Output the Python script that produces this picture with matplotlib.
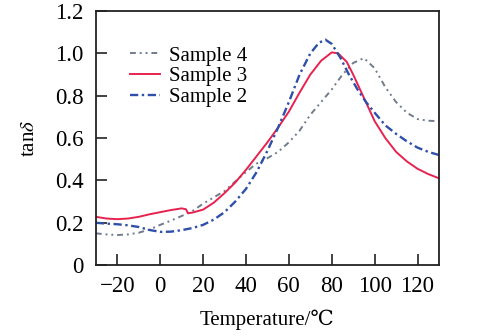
import matplotlib
matplotlib.use("Agg")
import matplotlib.pyplot as plt
from matplotlib.ticker import FuncFormatter

plt.rcParams['font.family'] = ['Liberation Serif', 'DejaVu Serif']
plt.rcParams['mathtext.fontset'] = 'stix'

# tan(delta) vs temperature curves
x_s4 = [-30, -25, -20, -15, -10, -5, 0, 5, 10, 15, 20, 25, 30, 35, 40, 45, 50, 55,
        60, 65, 70, 75, 80, 85, 90, 95, 100, 105, 110, 115, 120, 125, 130]
y_s4 = [0.15, 0.145, 0.142, 0.145, 0.153, 0.168, 0.19, 0.21, 0.232, 0.255, 0.29, 0.32,
        0.35, 0.395, 0.44, 0.48, 0.505, 0.535, 0.58, 0.635, 0.71, 0.77, 0.83, 0.9,
        0.955, 0.978, 0.93, 0.84, 0.77, 0.72, 0.69, 0.682, 0.68]

x_s3 = [-30, -25, -20, -15, -10, -5, 0, 5, 10, 12, 13, 15, 20, 25, 30, 35, 40, 45, 50,
        55, 60, 65, 70, 75, 80, 83, 87, 90, 95, 100, 105, 110, 115, 120, 125, 130]
y_s3 = [0.228, 0.22, 0.217, 0.22, 0.228, 0.24, 0.25, 0.26, 0.268, 0.264, 0.245, 0.248,
        0.262, 0.295, 0.34, 0.39, 0.45, 0.515, 0.58, 0.65, 0.725, 0.815, 0.9, 0.965,
        1.005, 1.0, 0.96, 0.9, 0.79, 0.68, 0.6, 0.535, 0.49, 0.455, 0.43, 0.41]

x_s2 = [-30, -25, -20, -15, -10, -5, 0, 5, 10, 15, 20, 25, 30, 35, 40, 45, 50, 55, 60,
        65, 70, 74, 77, 80, 84, 88, 92, 96, 100, 105, 110, 115, 120, 125, 130]
y_s2 = [0.2, 0.196, 0.193, 0.188, 0.18, 0.166, 0.157, 0.158, 0.165, 0.175, 0.19, 0.215,
        0.25, 0.3, 0.36, 0.44, 0.54, 0.65, 0.77, 0.9, 1.0, 1.05, 1.065, 1.045, 0.98, 0.9,
        0.83, 0.77, 0.72, 0.66, 0.62, 0.585, 0.555, 0.535, 0.52]

x_ticks = [-20, 0, 20, 40, 60, 80, 100, 120]
y_ticks = [0, 0.2, 0.4, 0.6, 0.8, 1.0, 1.2]

fig = plt.figure(figsize=(4.84, 3.36), dpi=100)
ax = fig.add_axes([0.198, 0.211, 0.709, 0.756])

ax.plot(x_s4, y_s4, color='#707b8c', lw=1.4, dashes=[3, 2, 1, 2, 1, 2], label='Sample 4')
ax.plot(x_s3, y_s3, color='#e8224f', lw=1.4, label='Sample 3')
ax.plot(x_s2, y_s2, color='#2f50a8', lw=1.7, dashes=[3.5, 1.5, 1, 1.5], label='Sample 2')

ax.set_xlim(-30, 130)
ax.set_ylim(0, 1.2)
ax.set_xticks(x_ticks)
ax.set_yticks(y_ticks)
ax.yaxis.set_major_formatter(FuncFormatter(lambda v, p: '0' if v == 0 else f'{v:.1f}'))
ax.tick_params(direction='in', length=8, width=1.2, labelsize=16.5, color='#222222',
               top=False, right=False)
ax.tick_params(axis='x', pad=8)
ax.tick_params(axis='y', pad=9)
for s in ax.spines.values():
    s.set_linewidth(1.3)
    s.set_color('#222222')

ax.set_xlabel('Temperature/\u2103', fontsize=15, labelpad=9)
ax.set_ylabel(r'tan$\delta$', fontsize=15, labelpad=11)

ax.legend(loc='upper left', bbox_to_anchor=(0.075, 0.895), frameon=False, fontsize=15,
          handlelength=1.45, handletextpad=0.45, labelspacing=0.05, borderaxespad=0)

fig.savefig('out.png', dpi=100)
